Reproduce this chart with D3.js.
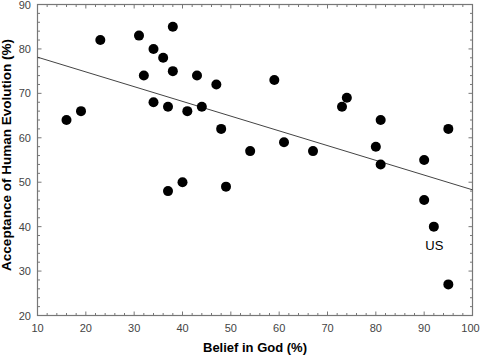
<!DOCTYPE html>
<html><head><meta charset="utf-8">
<script src="https://cdn.jsdelivr.net/npm/d3@7"></script>
<style>body{margin:0;background:#fff}svg{display:block}</style>
</head><body>
<script>
const belief = [16,19,23,31,34,36,38,38,32,43,47,34,37,41,44,48,37,40,49,59,54,61,67,73,74,81,80,81,90,95,90,92,95];
const acceptance = [64,66,82,83,80,78,85,75,74,74,72,68,67,66,67,62,48,50,49,73,57,59,57,67,69,64,58,54,55,62,46,40,27];
const xTicks = [10,20,30,40,50,60,70,80,90,100];
const yTicks = [20,30,40,50,60,70,80,90];
const labels = [{x:92, y:40, text:"US"}];

const W=480,H=357;
const svg=d3.select("body").append("svg").attr("width",W).attr("height",H);
const x=d3.scaleLinear().domain([10,100]).range([37.5,472.5]);
const y=d3.scaleLinear().domain([20,90]).range([315.5,4.5]);
const g=svg.append("g");
const col="#777";
const FF="Liberation Sans, Arial, sans-serif";
// frame
g.append("rect").attr("x",x(10)).attr("y",y(90)).attr("width",x(100)-x(10)).attr("height",y(20)-y(90))
 .attr("fill","none").attr("stroke",col).attr("stroke-width",1.2);
const minX=d3.range(10,101,2), minY=d3.range(20,91,2);
// inward ticks on all sides
minX.forEach(v=>{const L=v%10===0?4:2.5;
 g.append("line").attr("x1",x(v)).attr("x2",x(v)).attr("y1",y(20)).attr("y2",y(20)-L).attr("stroke",col);
 g.append("line").attr("x1",x(v)).attr("x2",x(v)).attr("y1",y(90)).attr("y2",y(90)+L).attr("stroke",col);});
minY.forEach(v=>{const L=v%10===0?4:2.5;
 g.append("line").attr("y1",y(v)).attr("y2",y(v)).attr("x1",x(10)).attr("x2",x(10)+L).attr("stroke",col);
 g.append("line").attr("y1",y(v)).attr("y2",y(v)).attr("x1",x(100)).attr("x2",x(100)-L).attr("stroke",col);});
// tick labels
g.selectAll(".xl").data(xTicks).enter().append("text").attr("x",d=>d===100?x(d)-2:x(d)).attr("y",332)
 .attr("text-anchor","middle").attr("font-family",FF).attr("font-size",11).attr("fill","#444").text(d=>d);
g.selectAll(".yl").data(yTicks).enter().append("text").attr("x",31).attr("y",d=>y(d)+4)
 .attr("text-anchor","end").attr("font-family",FF).attr("font-size",11).attr("fill","#444").text(d=>d);
// regression
const n=belief.length, mx=d3.mean(belief), my=d3.mean(acceptance);
let sxy=0,sxx=0; for(let i=0;i<n;i++){sxy+=(belief[i]-mx)*(acceptance[i]-my);sxx+=(belief[i]-mx)**2;}
const b=sxy/sxx, a=my-b*mx;
g.append("line").attr("x1",x(10)).attr("y1",y(a+b*10)).attr("x2",x(100)).attr("y2",y(a+b*100)).attr("stroke","#444").attr("stroke-width",1);
// points
g.selectAll("circle").data(belief.map((d,i)=>[d,acceptance[i]])).enter().append("circle")
 .attr("cx",d=>x(d[0])).attr("cy",d=>y(d[1])).attr("r",5).attr("fill","#000");
g.selectAll(".lab").data(labels).enter().append("text").attr("x",d=>x(d.x)+0.5).attr("y",d=>y(d.y)+23)
 .attr("text-anchor","middle").attr("font-family",FF).attr("font-size",13).attr("fill","#000").text(d=>d.text);
// titles
svg.append("text").attr("x",255).attr("y",352).attr("text-anchor","middle").attr("font-family",FF)
 .attr("font-weight","bold").attr("font-size",13).text("Belief in God (%)");
svg.append("text").attr("transform",`translate(11,155) rotate(-90)`).attr("text-anchor","middle").attr("font-family",FF)
 .attr("font-weight","bold").attr("font-size",13.5).text("Acceptance of Human Evolution (%)");
</script>
</body></html>
